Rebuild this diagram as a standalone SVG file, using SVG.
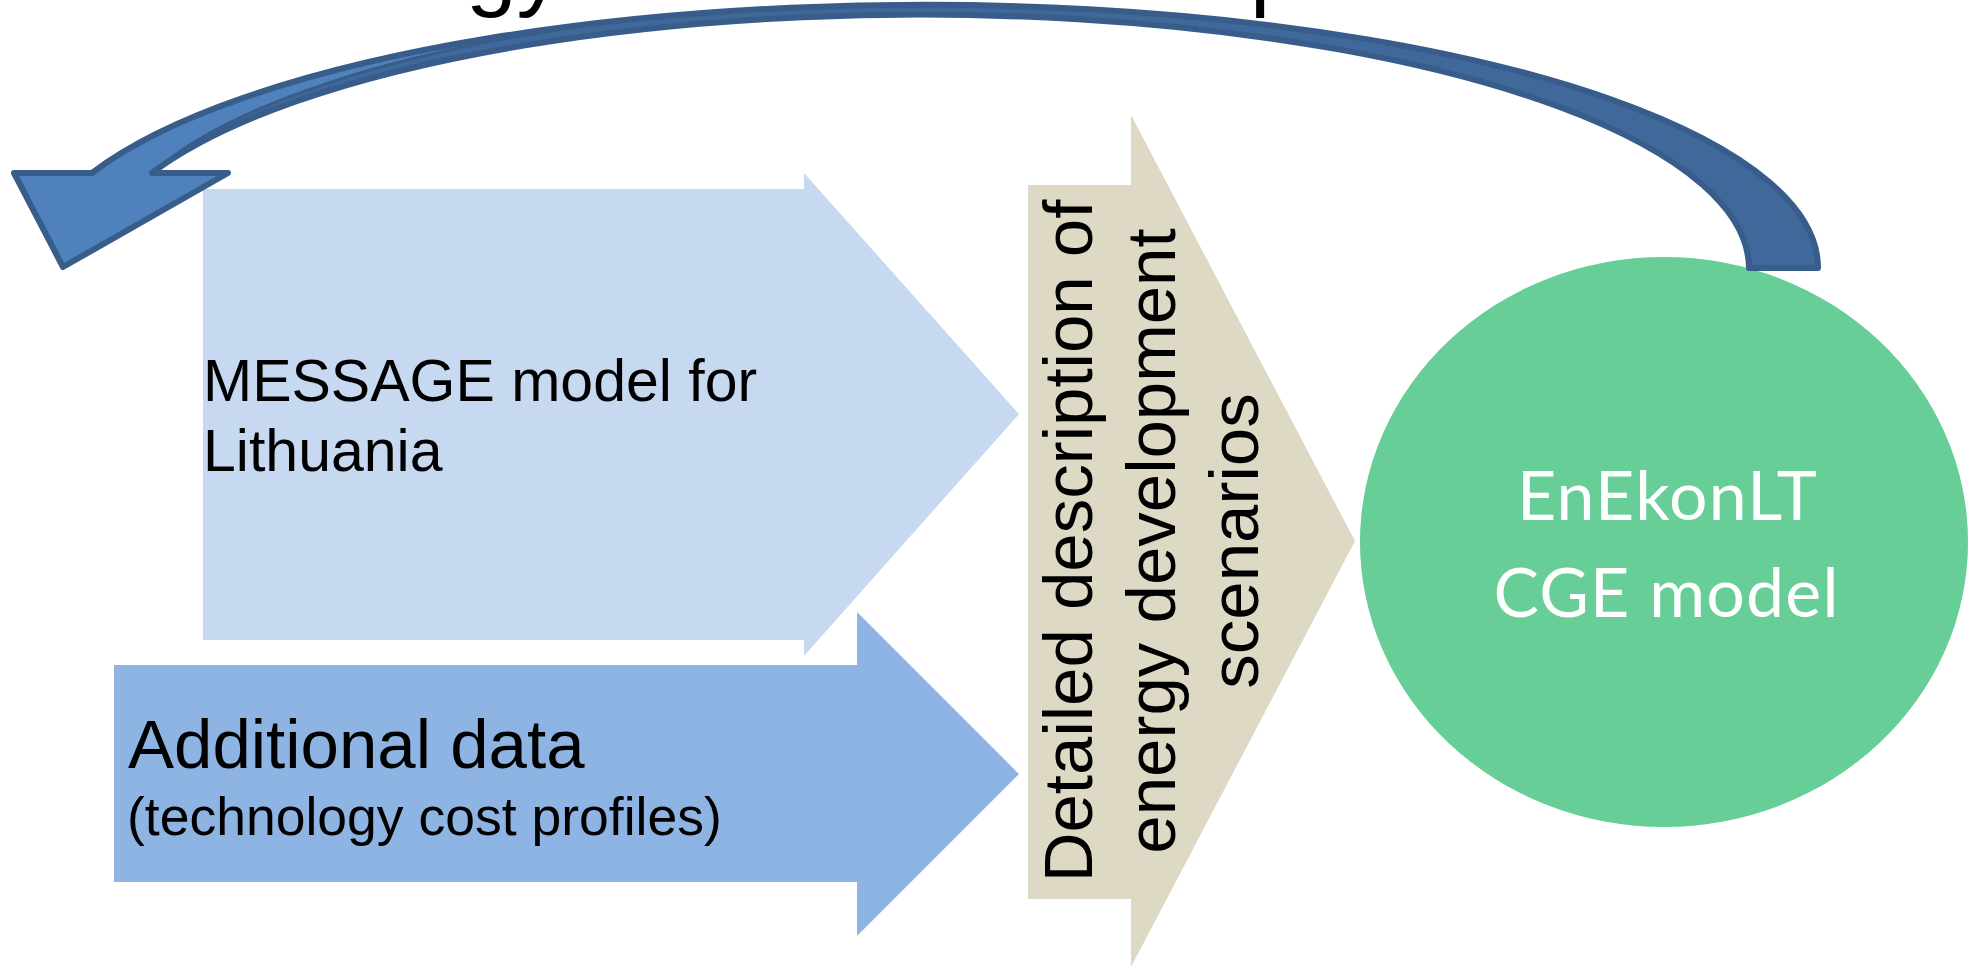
<svg xmlns="http://www.w3.org/2000/svg" width="1979" height="968" viewBox="0 0 1979 968">
<style>
.t{font-family:"Liberation Sans",Arial,sans-serif;fill:#000}
.w{font-family:Lato,"Open Sans",sans-serif;fill:#fff}
</style>
<rect width="1979" height="968" fill="#fff"/>
<g id="title-fragments">
<text class="t" x="466" y="-1" font-size="91">gy</text>
<text class="t" x="1250" y="-1" font-size="91">p</text>
</g>
<g id="node-additional-data">
<polygon points="114,665 857,665 857,612 1019,774 857,936 857,882 114,882" fill="#8EB4E3"/>
<text class="t" x="128" y="768" font-size="69">Additional data</text>
<text class="t" x="127" y="835" font-size="53.5">(technology cost profiles)</text>
</g>
<g id="node-message">
<polygon points="203,189 804,189 804,173 1019,414 804,656 804,640 203,640" fill="#C6D9F1"/>
<text class="t" x="203" y="401" font-size="59">MESSAGE model for</text>
<text class="t" x="203" y="471" font-size="59">Lithuania</text>
</g>
<g id="node-scenarios">
<polygon points="1028,185 1131,185 1131,115 1355,541 1131,967 1131,899 1028,899" fill="#DDD9C4"/>
<g class="t" font-size="69" text-anchor="middle">
<text transform="translate(1092,541) rotate(-90)">Detailed description of</text>
<text transform="translate(1175,541) rotate(-90)">energy development</text>
<text transform="translate(1258,541) rotate(-90)">scenarios</text>
</g>
</g>
<g id="node-cge">
<ellipse cx="1664" cy="542" rx="304" ry="285" fill="#66CE96"/>
<text class="w" x="1667" y="520" font-size="68" text-anchor="middle" textLength="300">EnEkonLT</text>
<text class="w" x="1666" y="617" font-size="68" text-anchor="middle" textLength="345">CGE model</text>
</g>
<g id="connectors">
<path d="M14,173 L92,173 A893,263 0 0 1 1818,268 L1749,268 A829,254 0 0 0 152,173 L228,173 L63,267 Z" fill="#41689A"/>
<path d="M14,173 L228,173 L63,267 Z" fill="#4F81BD"/>
<path d="M92,173 A893,263 0 0 1 620,21 A829,254 0 0 0 152,173 Z" fill="#4F81BD"/>
<path d="M620,21 A829,254 0 0 0 152,173" fill="none" stroke="#385D8A" stroke-width="3"/>
<path d="M14,173 L92,173 A893,263 0 0 1 1818,268 L1749,268 A829,254 0 0 0 152,173 L228,173 L63,267 Z" fill="none" stroke="#385D8A" stroke-width="6" stroke-linejoin="round"/>
</g>
</svg>
